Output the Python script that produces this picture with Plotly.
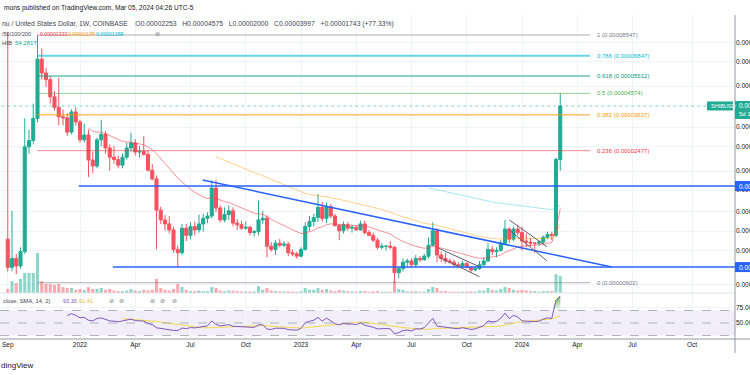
import numpy as np
import pandas as pd
import plotly.graph_objects as go

# ---------------- data (prices in micro-USD, 1e-6 USD) ----------------
first_week = "2021-09-06"

opens = [9.6, 7.1, 7.8, 7.2, 8.4, 25.8, 27.6, 35.0, 66.0, 56.9,
         53.0, 44.1, 39.4, 35.6, 35.2, 30.2, 37.5, 33.7, 27.8, 29.3,
         22.4, 21.0, 27.8, 29.5, 25.5, 23.1, 22.5, 21.2, 23.1, 25.5,
         26.9, 24.4, 24.6, 23.8, 20.1, 18.3, 13.1, 11.8, 11.3, 10.6,
         8.6, 8.3, 10.8, 10.0, 11.0, 10.6, 11.3, 12.0, 12.3, 16.6,
         13.4, 11.8, 12.5, 13.0, 11.4, 11.2, 10.8, 10.9, 10.3, 10.4,
         11.8, 12.0, 8.9, 8.6, 9.2, 9.0, 9.1, 8.3, 8.2, 8.0,
         8.6, 11.0, 11.6, 12.1, 13.5, 12.0, 13.6, 12.3, 11.1, 10.5,
         11.2, 10.8, 10.9, 10.6, 11.3, 10.3, 10.0, 9.5, 8.8, 8.9,
         8.9, 8.8, 6.7, 7.0, 7.5, 7.6, 7.3, 7.8, 7.7, 8.0,
         9.0, 10.5, 8.1, 7.8, 7.6, 7.5, 7.3, 7.2, 7.4, 7.1,
         6.9, 7.0, 7.3, 7.6, 8.6, 8.4, 8.5, 9.2, 10.7, 9.6,
         10.7, 10.3, 9.4, 9.3, 9.2, 9.2, 9.3, 9.8, 10.1, 10.0,
         22.53]
highs = [88.0, 13.0, 8.2, 8.8, 35.0, 31.0, 41.0, 85.47, 74.0, 60.0,
         55.0, 47.0, 54.0, 38.5, 37.0, 38.5, 39.5, 34.5, 33.0, 31.0,
         24.5, 28.5, 34.5, 30.5, 26.5, 26.0, 23.5, 24.0, 27.0, 30.0,
         28.0, 26.0, 29.0, 25.0, 21.5, 19.0, 13.6, 12.4, 12.3, 11.0,
         9.0, 11.3, 11.3, 11.5, 11.6, 12.5, 12.6, 12.8, 18.0, 18.1,
         13.8, 13.5, 13.8, 13.5, 11.9, 11.7, 11.6, 11.1, 10.6, 14.5,
         13.0, 12.4, 9.3, 9.5, 9.6, 9.4, 9.3, 8.6, 8.4, 8.8,
         11.5, 12.3, 12.6, 15.6, 14.3, 14.2, 14.0, 12.6, 11.3, 11.6,
         11.5, 11.2, 11.1, 11.7, 11.7, 10.6, 10.3, 9.7, 9.2, 9.0,
         9.4, 8.9, 7.1, 7.8, 7.8, 7.8, 8.1, 8.0, 8.2, 9.8,
         11.5, 10.8, 8.4, 8.3, 7.8, 7.7, 7.5, 7.6, 7.5, 7.2,
         7.2, 7.6, 7.9, 9.2, 8.9, 8.8, 9.5, 11.8, 10.9, 11.0,
         11.2, 11.0, 10.2, 9.7, 9.3, 9.5, 10.0, 10.4, 10.4, 23.0,
         45.75]
lows = [6.8, 6.8, 6.6, 7.0, 8.2, 24.0, 26.5, 33.5, 53.0, 49.0,
        41.0, 38.0, 32.5, 32.5, 29.0, 29.5, 32.5, 27.0, 27.0, 18.7,
        19.5, 20.5, 26.0, 24.0, 20.0, 21.5, 20.5, 20.5, 22.5, 24.5,
        23.5, 23.0, 23.5, 19.8, 18.0, 8.6, 11.3, 10.5, 10.2, 8.3,
        7.1, 8.1, 9.4, 9.6, 10.0, 10.3, 10.4, 11.4, 12.0, 12.8,
        11.5, 11.5, 11.8, 11.0, 10.6, 10.6, 10.6, 10.0, 9.9, 10.0,
        11.3, 7.9, 8.4, 8.1, 8.8, 8.8, 8.0, 8.0, 7.8, 7.9,
        8.5, 10.5, 11.0, 11.5, 11.6, 11.4, 12.0, 11.0, 9.5, 10.2,
        10.5, 10.3, 10.5, 10.5, 10.1, 9.9, 9.3, 8.6, 8.6, 8.5,
        8.6, 6.02, 6.3, 6.8, 7.1, 7.1, 7.1, 7.5, 7.6, 7.8,
        8.9, 7.5, 7.5, 7.4, 7.4, 7.1, 7.1, 7.1, 7.0, 6.7,
        6.8, 6.9, 7.2, 7.5, 8.1, 7.9, 8.4, 9.0, 9.2, 9.4,
        10.0, 8.5, 8.8, 8.9, 8.3, 8.9, 9.1, 9.6, 9.5, 9.8,
        20.0]
closes = [7.1, 7.8, 7.2, 8.4, 25.8, 27.6, 35.0, 66.0, 56.9, 53.0,
          44.1, 39.4, 35.6, 35.2, 30.2, 37.5, 33.7, 27.8, 29.3, 22.4,
          21.0, 27.8, 29.5, 25.5, 23.1, 22.5, 21.2, 23.1, 25.5, 26.9,
          24.4, 24.6, 23.8, 20.1, 18.3, 13.1, 11.8, 11.3, 10.6, 8.6,
          8.3, 10.8, 10.0, 11.0, 10.6, 11.3, 12.0, 12.3, 16.6, 13.4,
          11.8, 12.5, 13.0, 11.4, 11.2, 10.8, 10.9, 10.3, 10.4, 11.8,
          12.0, 8.9, 8.6, 9.2, 9.0, 9.1, 8.3, 8.2, 8.0, 8.6,
          11.0, 11.6, 12.1, 13.5, 12.0, 13.6, 12.3, 11.1, 10.5, 11.2,
          10.8, 10.9, 10.6, 11.3, 10.3, 10.0, 9.5, 8.8, 8.9, 8.9,
          8.8, 6.7, 7.0, 7.5, 7.6, 7.3, 7.8, 7.7, 8.0, 9.0,
          10.5, 8.1, 7.8, 7.6, 7.5, 7.3, 7.2, 7.4, 7.1, 6.9,
          7.0, 7.3, 7.6, 8.6, 8.4, 8.5, 9.2, 10.7, 9.6, 10.7,
          10.3, 9.4, 9.3, 9.2, 9.2, 9.3, 9.8, 10.1, 10.0, 22.54,
          39.97]
# weekly volume, trillions of SHIB
volumes = [13, 38, 32, 45, 64, 64, 64, 128, 38, 29,
           29, 26, 29, 19, 16, 16, 10, 13, 10, 19,
           13, 13, 16, 10, 13, 8, 6, 6, 8, 13,
           8, 6, 10, 8, 10, 45, 16, 10, 8, 13,
           29, 19, 10, 6, 6, 8, 6, 6, 19, 16,
           8, 6, 8, 8, 6, 5, 5, 5, 5, 22,
           10, 16, 8, 6, 5, 5, 5, 4, 4, 6,
           16, 10, 10, 16, 10, 13, 8, 6, 10, 8,
           6, 5, 4, 6, 6, 4, 5, 6, 4, 4,
           4, 38, 13, 10, 5, 5, 6, 4, 4, 13,
           19, 16, 6, 6, 4, 4, 4, 4, 4, 5,
           4, 8, 8, 16, 10, 8, 13, 19, 16, 10,
           8, 10, 8, 6, 6, 4, 6, 6, 6, 60,
           54.281]

# Fibonacci retracement drawing (prices in 1e-8 USD)
fib_high_e8 = 8547
fib_low_e8 = 602
fib_ratios = [1, 0.786, 0.618, 0.5, 0.382, 0.236, 0]
fib_colors = ["#787b86", "#00bcd4", "#089981", "#4caf50", "#ff9800", "#f23645", "#787b86"]
fib_widths = [1, 2, 1.5, 1, 1.5, 1, 1]
fib_dates = ["2021-10-25", "2024-04-22"]
fib_label_date = "2024-04-30"

# horizontal support / resistance (micro-USD) and their start dates
hlines = [16.96, 7.12]
hline_starts = ["2022-01-01", "2022-02-26"]
# descending trend line
trend_dates = ["2022-07-24", "2024-05-28"]
trend_prices = [18.09, 7.12]
# two falling channels (flags): (dates, upper prices, lower prices)
chan1_dates = ["2023-08-16", "2023-10-23"]
chan1_upper = [8.73, 7.14]
chan1_lower = [7.95, 6.42]
chan2_dates = ["2023-12-11", "2024-02-11"]
chan2_upper = [11.79, 8.86]
chan2_lower = [10.59, 7.62]

time_tick_dates = ["2021-09-06", "2022-01-03", "2022-04-04", "2022-07-04", "2022-10-03",
                   "2023-01-02", "2023-04-03", "2023-07-03", "2023-10-02", "2024-01-01",
                   "2024-04-01", "2024-07-01", "2024-10-07"]
time_tick_text = ["Sep", "2022", "Apr", "Jul", "Oct", "2023", "Apr", "Jul", "Oct", "2024",
                  "Apr", "Jul", "Oct"]
price_ticks = [78.7, 64.2, 49.5, 31.9, 25.8, 19.9, 16.25, 12.88, 10.47, 8.48, 5.88]

# ---------------- derived ----------------
U = 1e-6
weeks = pd.date_range(first_week, periods=len(closes), freq="7D")
o = np.array(opens) * U
h = np.array(highs) * U
l = np.array(lows) * U
c = np.array(closes) * U


def ema(vals, n):
    out = [None] * len(vals)
    prev = float(np.mean(vals[:n]))
    out[n - 1] = prev
    a = 2.0 / (n + 1)
    for i in range(n, len(vals)):
        prev = a * vals[i] + (1 - a) * prev
        out[i] = prev
    return out


def rsi(vals, n=14):
    ch = np.diff(vals)
    g = np.clip(ch, 0, None)
    ls = np.clip(-ch, 0, None)
    out = [None] * len(vals)
    ag, al = g[:n].mean(), ls[:n].mean()
    out[n] = 100 - 100 / (1 + ag / al)
    for i in range(n, len(ch)):
        ag = (ag * (n - 1) + g[i]) / n
        al = (al * (n - 1) + ls[i]) / n
        out[i + 1] = 100 - 100 / (1 + ag / al)
    return out


ema20, ema50, ema100 = ema(c, 20), ema(c, 50), ema(c, 100)
rsi_v = rsi(c, 14)
rsi_s = pd.Series(rsi_v, dtype=float).rolling(14).mean().tolist()
rsi_s = [None if (v is None or np.isnan(v)) else v for v in rsi_s]

UP, DN = "#22ab94", "#f7525f"
FONT = "Liberation Sans"

# ---------------- geometry / layout calibration ----------------
W, H = 750, 375
PT, PB_PX, PR_PX = 15, 339, 735      # plot top, plot bottom, plot right (px)
PH = PB_PX - PT
SPLIT = 293                          # main pane / RSI pane boundary (px)
MAIN_DOM = [(PB_PX - SPLIT) / PH, 1.0]
RSI_DOM = [0.0, MAIN_DOM[0]]
DECADE_PX = 215.0
REF_LOG, REF_Y = np.log10(fib_high_e8 * 1e-8), 35.0
LOG_TOP = REF_LOG + (REF_Y - PT) / DECADE_PX
LOG_BOT = REF_LOG - (SPLIT - REF_Y) / DECADE_PX
X0_PX, PX_WEEK = 7.75, 4.25
t0 = pd.Timestamp(first_week)
x_lo = t0 + pd.Timedelta(weeks=(0 - X0_PX) / PX_WEEK)
x_hi = t0 + pd.Timedelta(weeks=(PR_PX - X0_PX) / PX_WEEK)
RSI_LO, RSI_HI = 50 - (PB_PX - 323) / 0.625, 50 + (323 - SPLIT) / 0.625
VOL_TOP = 890   # volume axis top (T) so that bars sit low in the main pane


def xp(px):
    return px / PR_PX


def yp(py):
    return (PB_PX - py) / PH


def price_paper(p):
    return MAIN_DOM[0] + (np.log10(p) - LOG_BOT) / (LOG_TOP - LOG_BOT) * (MAIN_DOM[1] - MAIN_DOM[0])


far_date = "2025-06-01"
fig = go.Figure()

# volume (base axis, drawn beneath candles)
fig.add_trace(go.Bar(
    x=weeks, y=volumes, yaxis="y", xaxis="x",
    marker=dict(color=["rgba(34,171,148,0.5)" if cc >= oo else "rgba(247,82,95,0.5)"
                       for oo, cc in zip(o, c)], line=dict(width=0)),
    width=0.72 * 7 * 86400000, hoverinfo="skip"))

# moving averages
for vals, col in [(ema20, "rgba(242,54,69,0.55)"), (ema50, "rgba(255,152,0,0.45)"),
                  (ema100, "rgba(0,188,212,0.35)")]:
    fig.add_trace(go.Scatter(x=weeks, y=[None if v is None else v for v in vals], yaxis="y2",
                             mode="lines", line=dict(color=col, width=1), hoverinfo="skip"))

# candles
fig.add_trace(go.Candlestick(
    x=weeks, open=o, high=h, low=l, close=c, yaxis="y2", whiskerwidth=0,
    increasing=dict(line=dict(color=UP, width=1), fillcolor=UP),
    decreasing=dict(line=dict(color=DN, width=1), fillcolor=DN), hoverinfo="skip"))

# fib levels
for r, col, wd in zip(fib_ratios, fib_colors, fib_widths):
    lvl = (fib_low_e8 + r * (fib_high_e8 - fib_low_e8)) * 1e-8
    fig.add_trace(go.Scatter(x=fib_dates, y=[lvl, lvl], yaxis="y2", mode="lines",
                             line=dict(color=col, width=wd), opacity=0.6, hoverinfo="skip"))

# current price line
fig.add_trace(go.Scatter(x=[weeks[0] - pd.Timedelta(days=60), far_date], y=[c[-1], c[-1]], yaxis="y2",
                         mode="lines", line=dict(color="rgba(34,171,148,0.55)", width=1, dash="dot"),
                         hoverinfo="skip"))
# support lines
for lv, st in zip(hlines, hline_starts):
    fig.add_trace(go.Scatter(x=[st, far_date], y=[lv * U, lv * U], yaxis="y2", mode="lines",
                             line=dict(color="#2962ff", width=1.5), hoverinfo="skip"))
fig.add_trace(go.Scatter(x=trend_dates, y=np.array(trend_prices) * U, yaxis="y2", mode="lines",
                         line=dict(color="#2962ff", width=1.5), hoverinfo="skip"))
for dts, up_, lo_ in [(chan1_dates, chan1_upper, chan1_lower), (chan2_dates, chan2_upper, chan2_lower)]:
    for arr in (up_, lo_):
        fig.add_trace(go.Scatter(x=dts, y=np.array(arr) * U, yaxis="y2", mode="lines",
                                 line=dict(color="#5d606b", width=1), hoverinfo="skip"))

# RSI pane
fig.add_trace(go.Scatter(x=weeks, y=rsi_s, yaxis="y3", mode="lines",
                         line=dict(color="#f5d94a", width=1), hoverinfo="skip"))
ob_idx = [i for i in range(len(rsi_v)) if rsi_v[i] is not None and i >= len(rsi_v) - 3]
fig.add_trace(go.Scatter(x=[weeks[i] for i in ob_idx], y=[70] * len(ob_idx), yaxis="y3", mode="lines",
                         line=dict(width=0), hoverinfo="skip"))
fig.add_trace(go.Scatter(x=[weeks[i] for i in ob_idx], y=[max(70, rsi_v[i]) for i in ob_idx], yaxis="y3",
                         mode="lines", line=dict(width=0), fill="tonexty",
                         fillgradient=dict(type="vertical",
                                           colorscale=[[0, "rgba(76,175,80,0.0)"], [1, "rgba(76,175,80,0.9)"]]),
                         hoverinfo="skip"))
fig.add_trace(go.Scatter(x=weeks, y=rsi_v, yaxis="y3", mode="lines",
                         line=dict(color="#7e57c2", width=1), hoverinfo="skip"))

shapes = []
# RSI band + dashed levels
shapes.append(dict(type="rect", xref="paper", yref="y3", x0=0, x1=1, y0=30, y1=70,
                   fillcolor="rgba(126,87,194,0.1)", line=dict(width=0), layer="below"))
for lv in (70, 50, 30):
    shapes.append(dict(type="line", xref="paper", yref="y3", x0=0, x1=1, y0=lv, y1=lv,
                       line=dict(color="rgba(120,123,134,0.55)", width=1, dash="dash")))
# pane separator and borders
shapes.append(dict(type="line", xref="paper", yref="paper", x0=0, x1=1, y0=MAIN_DOM[0], y1=MAIN_DOM[0],
                   line=dict(color="#e0e3eb", width=1)))
shapes.append(dict(type="line", xref="paper", yref="paper", x0=1, x1=1, y0=yp(353), y1=1.0,
                   line=dict(color="#9598a1", width=1)))
shapes.append(dict(type="line", xref="paper", yref="paper", x0=0, x1=xp(750), y0=0, y1=0,
                   line=dict(color="#9598a1", width=1)))
# price-axis labels
for lv in hlines:
    yy = price_paper(lv * U)
    shapes.append(dict(type="rect", xref="paper", yref="paper", x0=1.0, x1=xp(752), y0=yy - 5 / PH,
                       y1=yy + 5 / PH, fillcolor="#2962ff", line=dict(width=0)))
ycur = price_paper(c[-1])
shapes.append(dict(type="rect", xref="paper", yref="paper", x0=1.0, x1=xp(752), y0=ycur - 13 / PH,
                   y1=ycur + 5 / PH, fillcolor="#22ab94", line=dict(width=0)))
shapes.append(dict(type="rect", xref="paper", yref="paper", x0=xp(707), x1=xp(733), y0=ycur - 4.5 / PH,
                   y1=ycur + 4.5 / PH, fillcolor="#22ab94", line=dict(width=0)))

ann = []


def txt(x, y, s, color="#131722", size=6.5, xanchor="left", xref="paper", yref="paper"):
    ann.append(dict(x=x, y=y, xref=xref, yref=yref, text=s, showarrow=False, xanchor=xanchor,
                    yanchor="middle", font=dict(family=FONT, size=size, color=color)))


S = "&nbsp;"
txt(xp(2), yp(8), "mons published on TradingView.com, Mar 05, 2024 04:26 UTC-5", size=6.6)
ohlc = (f"O{o[-1]:.8f}{S * 3}H{h[-1]:.8f}{S * 3}L{l[-1]:.8f}{S * 3}C{c[-1]:.8f}{S * 3}"
        f"+{c[-1] - c[-2]:.8f}{S}(+{(c[-1] - c[-2]) / c[-2] * 100:.2f}%)")
txt(xp(0), yp(24), "nu / United States Dollar, 1W, COINBASE" + S * 4 + ohlc, color="#434651", size=6.8)
txt(xp(0), yp(33.5), "/50/100/200", color="#434651", size=5.5)
txt(xp(38), yp(33.5), f"{ema20[-1]:.8f}", color="#f23645", size=5.2)
txt(xp(66), yp(33.5), f"{ema50[-1]:.8f}", color="#ff9800", size=5.2)
txt(xp(94), yp(33.5), f"{ema100[-1]:.8f}", color="#00bcd4", size=5.2)
txt(xp(153), yp(33.5), "⊘", color="#787b86", size=6)
txt(xp(0), yp(43), "HIB", color="#434651", size=6)
txt(xp(13), yp(43), f"{volumes[-1]:.3f}T", color="#22ab94", size=6)

# fib labels
for r, col in zip(fib_ratios, fib_colors):
    lvl_e8 = fib_low_e8 + r * (fib_high_e8 - fib_low_e8)
    txt(fib_label_date, price_paper(lvl_e8 * 1e-8), f"{r:g} ({round(lvl_e8) / 1e8:.8f})", color=col, size=6,
        xref="x")

# axis label texts
for lv in hlines:
    txt(xp(737), price_paper(lv * U), f"{lv * U:.8f}", color="white", size=6.5)
txt(xp(737), ycur, f"{c[-1]:.8f}", color="white", size=6.5)
txt(xp(737), ycur - 8 / PH, "5d 19h", color="white", size=6)
txt(xp(709), ycur, "SHIBUSD", color="white", size=5.5)

# RSI legend
txt(xp(1), yp(301), "close, SMA, 14, 2)", color="#434651", size=5.8)
txt(xp(61), yp(301), f"{rsi_v[-1]:.2f}", color="#7e57c2", size=5.5)
txt(xp(77), yp(301), f"{rsi_s[-1]:.2f}", color="#e0b92c", size=5.5)
for xx in (107, 117, 148, 158, 170):
    txt(xp(xx), yp(301), "⊘", color="#787b86", size=6)
txt(xp(-1), yp(365), "dingView", color="#131722", size=8)

fig.update_layout(
    width=W, height=H, margin=dict(l=0, r=W - PR_PX, t=PT, b=H - PB_PX),
    paper_bgcolor="white", plot_bgcolor="white", showlegend=False, hovermode=False,
    boxgap=0.28, boxgroupgap=0, bargap=0.25,
    font=dict(family=FONT, size=6.5, color="#131722"),
    xaxis=dict(type="date", range=[x_lo, x_hi], anchor="y3", tickvals=time_tick_dates,
               ticktext=time_tick_text, showgrid=True, gridcolor="#f0f3fa", gridwidth=1,
               zeroline=False, showline=False, ticks="", rangeslider=dict(visible=False),
               automargin=False, tickfont=dict(family=FONT, size=6.5, color="#131722")),
    yaxis=dict(domain=MAIN_DOM, range=[0, VOL_TOP], visible=False, fixedrange=True, automargin=False),
    yaxis2=dict(domain=MAIN_DOM, overlaying="y", anchor="x", side="right", type="log",
                range=[LOG_BOT, LOG_TOP], tickvals=[v * U for v in price_ticks], automargin=False,
                ticktext=[f"{v * U:.8f}" for v in price_ticks], showgrid=True, gridcolor="#f0f3fa",
                zeroline=False, ticks="", tickfont=dict(family=FONT, size=6.5, color="#131722")),
    yaxis3=dict(domain=RSI_DOM, anchor="x", side="right", range=[RSI_LO, RSI_HI], tickvals=[50, 75],
                ticktext=["50.00", "75.00"], showgrid=True, gridcolor="#f0f3fa", zeroline=False, ticks="",
                automargin=False, tickfont=dict(family=FONT, size=6.5, color="#131722")),
    shapes=shapes, annotations=ann,
)

fig.write_html("out.html", config={"displayModeBar": False},
               post_script="document.body.style.margin='0px';")
